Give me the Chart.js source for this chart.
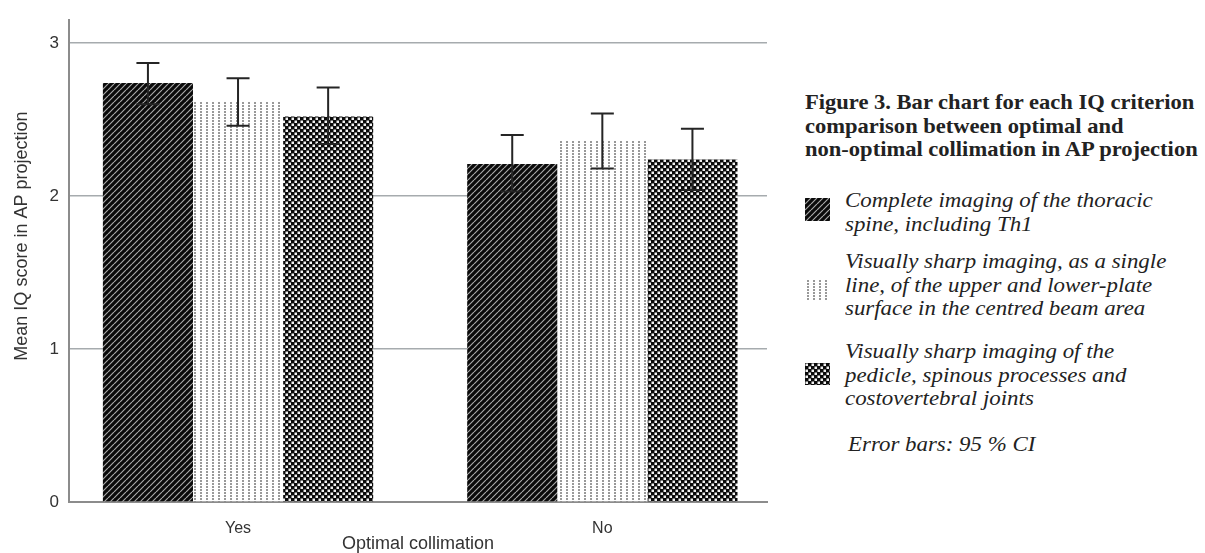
<!DOCTYPE html>
<html>
<head>
<meta charset="utf-8">
<script src="https://cdn.jsdelivr.net/npm/chart.js@4/dist/chart.umd.min.js"></script>
<style>
  body { margin: 0; background: #fff; }
  #wrap { position: relative; width: 1205px; height: 553px; overflow: hidden; }
  #chart { position: absolute; left: 0; top: 0; }
  .cap { position: absolute; font-family: "Liberation Serif", "Times New Roman", serif; color: #222; font-size: 21px; line-height: 23.5px; white-space: nowrap; transform: scaleX(1.09); transform-origin: left top; }
  .title { font-weight: bold; transform: scaleX(1.073); }
  .item { font-style: italic; }
  .sw { position: absolute; }
</style>
</head>
<body>
<div id="wrap">
  <canvas id="chart" width="790" height="553"></canvas>
  <div class="cap title" style="left:805px;top:91px;">Figure 3. Bar chart for each IQ criterion<br>comparison between optimal and<br>non-optimal collimation in AP projection</div>
  <canvas class="sw" id="sw0" width="25" height="23" style="left:805px;top:198px;"></canvas>
  <div class="cap item" style="left:845px;top:189px;">Complete imaging of the thoracic<br>spine, including Th1</div>
  <canvas class="sw" id="sw1" width="22" height="21" style="left:805px;top:280px;"></canvas>
  <div class="cap item" style="left:845px;top:250px;">Visually sharp imaging, as a single<br>line, of the upper and lower-plate<br>surface in the centred beam area</div>
  <canvas class="sw" id="sw2" width="25" height="22" style="left:805px;top:363px;"></canvas>
  <div class="cap item" style="left:845px;top:340px;">Visually sharp imaging of the<br>pedicle, spinous processes and<br>costovertebral joints</div>
  <div class="cap item" style="left:848px;top:433px;">Error bars: 95 % CI</div>
</div>
<script>
(() => {
    const categories = ['Yes', 'No'];
    const seriesNames = [
        'Complete imaging of the thoracic spine, including Th1',
        'Visually sharp imaging, as a single line, of the upper and lower-plate surface in the centred beam area',
        'Visually sharp imaging of the pedicle, spinous processes and costovertebral joints'
    ];
    const complete = [2.74, 2.21];
    const completeLow = [2.60, 2.03];
    const completeHigh = [2.87, 2.40];
    const sharpLine = [2.62, 2.36];
    const sharpLineLow = [2.46, 2.18];
    const sharpLineHigh = [2.77, 2.54];
    const pedicle = [2.52, 2.24];
    const pedicleLow = [2.34, 2.04];
    const pedicleHigh = [2.71, 2.44];
    const yTicks = [0, 1, 2, 3];

    // hatch patterns
    const makeTile = (w, h, paint) => {
        const c = document.createElement('canvas');
        c.width = w; c.height = h;
        paint(c.getContext('2d'));
        return c;
    };
    const stripeTile = makeTile(6, 6, g => {
        g.fillStyle = '#0a0a0a';
        g.fillRect(0, 0, 6, 6);
        g.strokeStyle = '#a8a8a8';
        g.lineWidth = 1.2;
        g.beginPath();
        for (let k = -6; k <= 12; k += 6) {
            g.moveTo(k, 6);
            g.lineTo(k + 6, 0);
        }
        g.stroke();
    });
    const dotTile = makeTile(6, 3, g => {
        g.fillStyle = '#fff';
        g.fillRect(0, 0, 6, 3);
        g.fillStyle = '#999';
        g.fillRect(2, 0, 2, 2);
    });
    const checkTile = makeTile(6, 6, g => {
        g.fillStyle = '#0a0a0a';
        g.fillRect(0, 0, 6, 6);
        g.fillStyle = '#f2f2f2';
        g.fillRect(0.5, 0.5, 2.5, 2.5);
        g.fillRect(3.5, 3.5, 2.5, 2.5);
    });

    const ctx = document.getElementById('chart').getContext('2d');
    const fills = [stripeTile, dotTile, checkTile].map(t => ctx.createPattern(t, 'repeat'));

    ['sw0', 'sw1', 'sw2'].forEach((id, i) => {
        const s = document.getElementById(id);
        const g = s.getContext('2d');
        g.fillStyle = g.createPattern([stripeTile, dotTile, checkTile][i], 'repeat');
        g.fillRect(0, 0, s.width, s.height);
    });

    const errors = [
        [completeLow, completeHigh],
        [sharpLineLow, sharpLineHigh],
        [pedicleLow, pedicleHigh]
    ];

    const errorBars = {
        id: 'errorBars',
        afterDatasetsDraw(chart) {
            const y = chart.scales.y;
            const g = chart.ctx;
            g.save();
            g.strokeStyle = '#252525';
            g.lineWidth = 2;
            chart.data.datasets.forEach((ds, i) => {
                chart.getDatasetMeta(i).data.forEach((bar, j) => {
                    const lo = y.getPixelForValue(errors[i][0][j]);
                    const hi = y.getPixelForValue(errors[i][1][j]);
                    g.beginPath();
                    g.moveTo(bar.x, lo); g.lineTo(bar.x, hi);
                    g.moveTo(bar.x - 11.5, lo); g.lineTo(bar.x + 11.5, lo);
                    g.moveTo(bar.x - 11.5, hi); g.lineTo(bar.x + 11.5, hi);
                    g.stroke();
                });
            });
            g.restore();
        }
    };

    new Chart(ctx, {
        type: 'bar',
        data: {
            labels: categories,
            datasets: [complete, sharpLine, pedicle].map((d, i) => ({
                label: seriesNames[i],
                data: d,
                backgroundColor: fills[i],
                borderWidth: 0,
                categoryPercentage: 0.742,
                barPercentage: 1
            }))
        },
        options: {
            responsive: false,
            animation: false,
            layout: { padding: { top: 17, right: 23, left: 0, bottom: 0 } },
            plugins: {
                legend: { display: false },
                tooltip: { enabled: false }
            },
            scales: {
                x: {
                    afterFit: s => { s.height = 51; },
                    // centre the two groups where the original puts them
                    afterBuildTicks: s => { s._startValue = -0.464; s._valueRange = 1.916; },
                    grid: { display: false, drawTicks: false },
                    border: { display: true, color: '#8c8c8c', width: 2 },
                    ticks: { color: '#333', padding: 17, font: { family: 'Liberation Sans', size: 16 } },
                    title: {
                        display: true,
                        text: 'Optimal collimation',
                        color: '#333',
                        padding: { top: 0, bottom: 0 },
                        font: { family: 'Liberation Sans', size: 18, lineHeight: 1 }
                    }
                },
                y: {
                    min: 0,
                    max: 3.15,
                    afterFit: s => { s.width = 69; },
                    afterBuildTicks: s => { s.ticks = yTicks.map(v => ({ value: v })); },
                    grid: { color: '#a6abae', lineWidth: 1.6, drawTicks: false },
                    border: { display: true, color: '#8c8c8c', width: 2 },
                    ticks: { color: '#333', padding: 10, font: { family: 'Liberation Sans', size: 17 } },
                    title: {
                        display: true,
                        // leading spaces nudge the label up, as in the original
                        text: '\u00A0'.repeat(10) + 'Mean IQ score in AP projection',
                        color: '#333',
                        padding: { top: 11, bottom: 0 },
                        font: { family: 'Liberation Sans', size: 18 }
                    }
                }
            }
        },
        plugins: [errorBars]
    });
})();
</script>
</body>
</html>
